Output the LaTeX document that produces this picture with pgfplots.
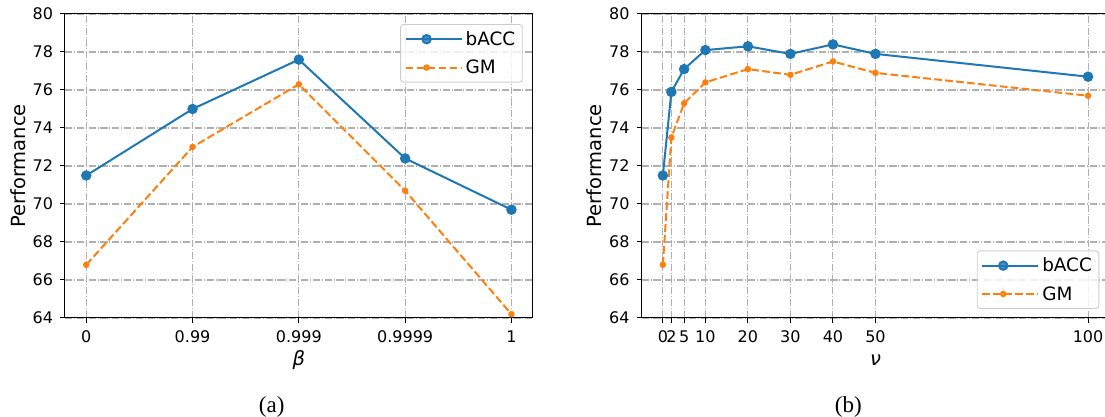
\documentclass[border=0pt]{standalone}
\usepackage{fontspec}
\setmainfont{DejaVu Sans}
\newfontfamily\capfont{Liberation Serif}
\usepackage{pgfplots}
\pgfplotsset{compat=1.18}
\definecolor{tabblue}{HTML}{1F77B4}
\definecolor{taborange}{HTML}{FF7F0E}
\pgfplotsset{
  myaxis/.style={
    scale only axis,
    width=467.7pt, height=304pt,
    anchor=south west,
    ymin=64, ymax=80, ytick={64,66,...,80},
    /pgf/number format/assume math mode=true,
    xticklabel style={font=\fontsize{16}{19}\selectfont, yshift=-4pt},
    yticklabel style={font=\fontsize{16}{19}\selectfont, xshift=-3.5pt},
    axis line style={line width=1pt},
    tick style={black, line width=1pt},
    major tick length=5pt,
    tick align=outside,
    xtick pos=bottom, ytick pos=left,
    grid=major,
    grid style={color=black!31, line width=1.1pt, dash pattern=on 7.1pt off 1.8pt on 1.1pt off 1.8pt},
    ylabel={Performance},
    every axis y label/.style={at={(axis description cs:0,0.5)}, xshift=-47pt, rotate=90, anchor=center, font=\fontsize{19.5}{23}\selectfont},
    every axis x label/.style={at={(axis description cs:0.5,0)}, anchor=center, yshift=-42pt, font=\fontsize{19.5}{23}\selectfont},
    legend cell align=left,
    legend style={font=\fontsize{18.4}{22}\selectfont, draw=black!20, rounded corners=3pt,
      fill=white, fill opacity=0.8, text opacity=1, line width=0.9pt,
      inner xsep=4pt, inner ysep=4pt, row sep=7pt,
      nodes={inner sep=3pt}},
    legend image code/.code={\path (0pt,0pt) -- (56pt,0pt);\draw[mark repeat=2,mark phase=2,##1] plot coordinates {(0pt,0pt) (21pt,0pt) (42pt,0pt)};},
  },
  bacc/.style={color=tabblue, line width=2pt, mark=*, mark size=4.2pt, mark options={solid, fill=tabblue}},
  gm/.style={color=taborange, line width=2pt, dash pattern=on 7.7pt off 3.3pt, mark=*, mark size=2.2pt, mark options={solid, fill=taborange}},
}
\begin{document}
\begin{tikzpicture}
\useasboundingbox (0,0) rectangle (1105pt,417pt);
\begin{axis}[myaxis, at={(65pt,99pt)},
  xmin=-0.2, xmax=4.2, xtick={0,1,2,3,4},
  xticklabels={0,0.99,0.999,0.9999,1},
  xlabel={{\itshape β}},
  legend style={at={(0.9786,0.967)}, anchor=north east}]
\addplot[bacc] coordinates {(0,71.5) (1,75.0) (2,77.6) (3,72.4) (4,69.7)};
\addlegendentry{bACC}
\addplot[gm] coordinates {(0,66.8) (1,73.0) (2,76.3) (3,70.7) (4,64.2)};
\addlegendentry{GM}
\end{axis}
\begin{axis}[myaxis, at={(641.6pt,99pt)},
  xmin=-5, xmax=105, xtick={0,2,5,10,20,30,40,50,100},
  xlabel={{\itshape ν}},
  legend style={at={(0.9787,0.0296)}, anchor=south east}]
\addplot[bacc] coordinates {(0,71.5) (2,75.9) (5,77.1) (10,78.1) (20,78.3) (30,77.9) (40,78.4) (50,77.9) (100,76.7)};
\addlegendentry{bACC}
\addplot[gm] coordinates {(0,66.8) (2,73.5) (5,75.3) (10,76.4) (20,77.1) (30,76.8) (40,77.5) (50,76.9) (100,75.7)};
\addlegendentry{GM}
\end{axis}
\node[font=\capfont\fontsize{23}{26}\selectfont] at (271.7pt,10.3pt) {(a)};
\node[font=\capfont\fontsize{23}{26}\selectfont] at (848.3pt,10.3pt) {(b)};
\end{tikzpicture}
\end{document}
